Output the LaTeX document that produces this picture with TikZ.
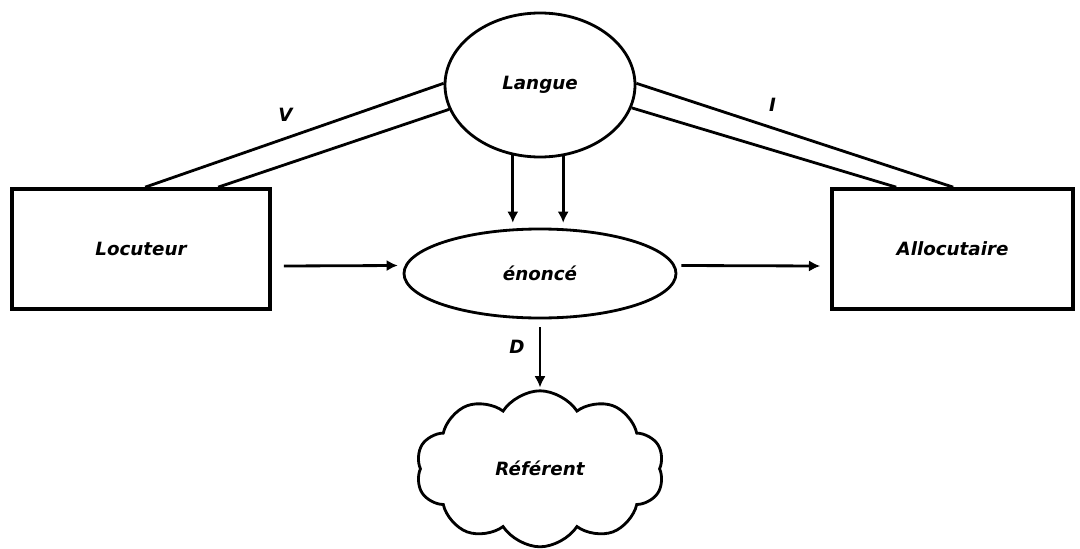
\documentclass[tikz,border=0pt]{standalone}
\usepackage{fontspec}
\setmainfont{DejaVu Sans}
\usetikzlibrary{arrows.meta,shapes.geometric,shapes.symbols}
\begin{document}
\begin{tikzpicture}[
    >={Latex[length=2.8mm,width=2.8mm]},
    every node/.style={font=\fontsize{13}{15}\selectfont\bfseries\itshape},
    boite/.style={draw, line width=2.6pt, minimum height=3cm, inner sep=0pt},
    bulle/.style={draw, ellipse, line width=2pt, inner sep=0pt},
    trait/.style={line width=2pt}]
    \useasboundingbox (0,0) rectangle (27,13.7);
    \node[bulle, minimum width=4.75cm, minimum height=3.6cm] (langue) at (13.5,11.575) {Langue};
    \node[bulle, minimum width=6.8cm, minimum height=2.225cm] (enonce) at (13.5,6.8625) {énoncé};
    \node[boite, minimum width=6.45cm] (locuteur) at (3.525,7.475) {Locuteur};
    \node[boite, minimum width=6.025cm] (allocutaire) at (23.8125,7.475) {Allocutaire};
    \node[draw, cloud, cloud puffs=10, cloud puff arc=115, line width=2pt,
          minimum width=6.2cm, minimum height=3.85cm] (referent) at (13.5,1.98) {Référent};
    \draw[trait] (langue.179) -- node[pos=0.53, yshift=0.58cm] (lblV) {V} ([xshift=3.375cm]locuteur.north west);
    \draw[trait] (langue.195) -- ([xshift=5.2cm]locuteur.north west);
    \draw[trait] (langue.1) -- node[pos=0.43, yshift=0.58cm] (lblI) {I} ([xshift=3.075cm]allocutaire.north west);
    \draw[trait] (langue.346) -- ([xshift=1.65cm]allocutaire.north west);
    \draw[trait,->] ([xshift=-0.68cm,yshift=0.08cm]langue.south) -- ([xshift=-0.68cm,yshift=0.12cm]enonce.north);
    \draw[trait,->] ([xshift=0.58cm,yshift=0.08cm]langue.south) -- ([xshift=0.58cm,yshift=0.12cm]enonce.north);
    \draw[trait,->] ([xshift=0.3cm,yshift=-0.425cm]locuteur.east) -- ([xshift=-0.12cm,yshift=0.2cm]enonce.west);
    \draw[trait,->] ([xshift=0.1cm,yshift=0.2cm]enonce.east) -- ([xshift=-0.25cm,yshift=-0.425cm]allocutaire.west);
    \draw[trait,->] ([yshift=-0.2cm]enonce.south) -- node[pos=0.32, xshift=-0.575cm] (lblD) {D} ([yshift=0.05cm]referent.north);
\end{tikzpicture}
\end{document}
